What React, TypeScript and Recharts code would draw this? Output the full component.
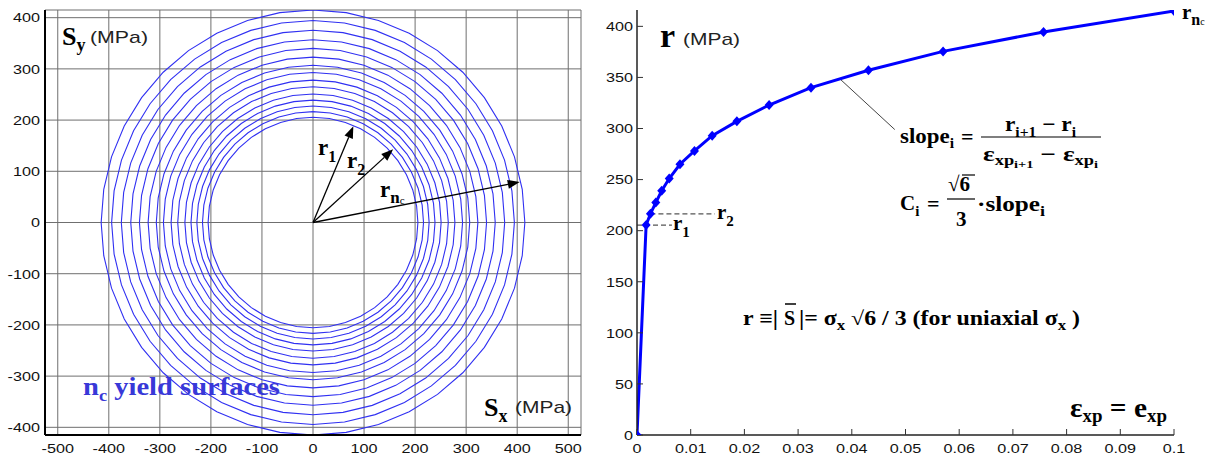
import React from 'react'
import {
  LineChart,
  Line,
  XAxis,
  YAxis,
  CartesianGrid,
  ReferenceLine
} from 'recharts'

// equivalent plastic strain at each knot of the curve
const strainValues = [0, 0.0017, 0.0025, 0.0035, 0.0046, 0.006, 0.008, 0.0107, 0.014, 0.0186, 0.0246, 0.0324, 0.0431, 0.057, 0.0757, 0.1]
// yield surface radius r (MPa) at each knot
const rValues = [0, 205.5, 216.5, 227.5, 239, 251, 265, 278, 293, 307, 323, 340, 357, 375.5, 394.5, 415]

const strainTicks = [0, 0.01, 0.02, 0.03, 0.04, 0.05, 0.06, 0.07, 0.08, 0.09, 0.1]
const rTicks = [0, 50, 100, 150, 200, 250, 300, 350, 400]
const sxTicks = [-500, -400, -300, -200, -100, 0, 100, 200, 300, 400, 500]
const syTicks = [-400, -300, -200, -100, 0, 100, 200, 300, 400]

// arrow tips in the deviatoric plane (MPa)
const arrowTipX = [79, 157, 405]
const arrowTipY = [188, 143, 79]

const SEGMENTS = 40
const curveData = strainValues.map((e, i) => ({ e, r: rValues[i] }))
const surfaces = rValues.slice(1).map(r =>
  Array.from({ length: SEGMENTS + 1 }, (_, k) => {
    const a = (2 * Math.PI * k) / SEGMENTS
    return { x: r * Math.cos(a), y: r * Math.sin(a) }
  })
)

const serif = '"Liberation Serif", "Times New Roman", serif'
const sans = '"Liberation Sans", Arial, sans-serif'
const BLUE = '#0000ff'

// tick labels in the source are a wide Arial, so stretch them a bit
const XTick = (p: any) => {
  const { x, y, payload } = p
  return (
    <g transform={`translate(${x},${y}) scale(1.2,1)`}>
      <text x={0} y={0} dy="0.71em" textAnchor="middle" fontFamily={sans} fontSize={13.5} fill="#111">
        {String(payload.value)}
      </text>
    </g>
  )
}

const YTick = (p: any) => {
  const { x, y, payload } = p
  return (
    <g transform={`translate(${x},${y}) scale(1.2,1)`}>
      <text x={0} y={0} dy="0.355em" textAnchor="end" fontFamily={sans} fontSize={13.5} fill="#111">
        {String(payload.value)}
      </text>
    </g>
  )
}

const Diamond = (p: any) => {
  const { cx, cy } = p
  if (cx == null || cy == null) return <g />
  return (
    <polygon
      points={`${cx},${cy - 5} ${cx + 4.5},${cy} ${cx},${cy + 5} ${cx - 4.5},${cy}`}
      fill={BLUE}
    />
  )
}

const ArrowShape = (props: any) => {
  const { x1, y1, x2, y2 } = props
  if (x1 == null || x2 == null) return <g />
  const a = Math.atan2(y2 - y1, x2 - x1)
  const len = 12
  const half = 4.5
  const bx = x2 - len * Math.cos(a)
  const by = y2 - len * Math.sin(a)
  const px = -Math.sin(a) * half
  const py = Math.cos(a) * half
  return (
    <g>
      <line x1={x1} y1={y1} x2={bx} y2={by} stroke="#000" strokeWidth={1.3} />
      <polygon points={`${x2},${y2} ${bx + px},${by + py} ${bx - px},${by - py}`} fill="#000" />
    </g>
  )
}

function SurfacesChart() {
  return (
    <LineChart width={600} height={464} margin={{ top: 10, right: 19, bottom: 0, left: 5 }}>
      <CartesianGrid stroke="#6f6f6f" strokeWidth={1} />
      <XAxis
        type="number"
        dataKey="x"
        domain={[-525, 525]}
        ticks={sxTicks}
        allowDataOverflow
        height={29}
        tickSize={0}
        tickMargin={8}
        tickLine={false}
        tick={XTick}
        axisLine={{ stroke: '#000', strokeWidth: 2 }}
      />
      <XAxis
        xAxisId="top"
        orientation="top"
        type="number"
        domain={[-525, 525]}
        allowDataOverflow
        height={0}
        tick={false}
        tickLine={false}
        axisLine={{ stroke: '#000', strokeWidth: 2 }}
      />
      <YAxis
        type="number"
        domain={[-415, 415]}
        ticks={syTicks}
        allowDataOverflow
        width={40}
        tickSize={0}
        tickMargin={5}
        tickLine={false}
        tick={YTick}
        axisLine={{ stroke: '#000', strokeWidth: 2 }}
      />
      <YAxis
        yAxisId="right"
        orientation="right"
        type="number"
        domain={[-415, 415]}
        allowDataOverflow
        width={0}
        tick={false}
        tickLine={false}
        axisLine={{ stroke: '#000', strokeWidth: 2 }}
      />
      {surfaces.map((pts, i) => (
        <Line
          key={`surf-${i}`}
          data={pts}
          dataKey="y"
          stroke="#3030f2"
          strokeWidth={1.1}
          dot={false}
          activeDot={false}
          isAnimationActive={false}
        />
      ))}
      {arrowTipX.map((tx, i) => (
        <ReferenceLine
          key={`arrow-${i}`}
          segment={[{ x: 0, y: 0 }, { x: tx, y: arrowTipY[i] }]}
          shape={ArrowShape}
          ifOverflow="visible"
        />
      ))}
    </LineChart>
  )
}

function CurveChart() {
  return (
    <LineChart width={620} height={464} data={curveData} margin={{ top: 10, right: 46, bottom: 0, left: 5 }}>
      <XAxis
        type="number"
        dataKey="e"
        domain={[0, 0.1]}
        ticks={strainTicks}
        allowDataOverflow
        height={29}
        tickSize={-6}
        tickMargin={14}
        tick={XTick}
        tickLine={{ stroke: '#333' }}
        axisLine={{ stroke: '#222', strokeWidth: 1.5 }}
      />
      <XAxis
        xAxisId="top"
        orientation="top"
        type="number"
        domain={[0, 0.1]}
        ticks={strainTicks}
        allowDataOverflow
        height={0}
        tickSize={-6}
        tickFormatter={() => ''}
        tickLine={{ stroke: '#333' }}
        axisLine={{ stroke: '#222', strokeWidth: 1.5 }}
      />
      <YAxis
        type="number"
        domain={[0, 416]}
        ticks={rTicks}
        allowDataOverflow
        width={32}
        tickSize={-6}
        tickMargin={10}
        tick={YTick}
        tickLine={{ stroke: '#333' }}
        axisLine={{ stroke: '#222', strokeWidth: 1.5 }}
      />
      <YAxis
        yAxisId="right"
        orientation="right"
        type="number"
        domain={[0, 416]}
        ticks={rTicks}
        allowDataOverflow
        width={0}
        tickSize={-6}
        tickFormatter={() => ''}
        tickLine={{ stroke: '#333' }}
        axisLine={{ stroke: '#222', strokeWidth: 1.5 }}
      />
      <ReferenceLine
        segment={[{ x: 0, y: rValues[1] }, { x: 0.0065, y: rValues[1] }]}
        stroke="#555"
        strokeDasharray="5 3"
        strokeWidth={1.2}
      />
      <ReferenceLine
        segment={[{ x: strainValues[2], y: rValues[2] }, { x: 0.0145, y: rValues[2] }]}
        stroke="#555"
        strokeDasharray="5 3"
        strokeWidth={1.2}
      />
      <ReferenceLine
        segment={[{ x: 0.0379, y: 348 }, { x: 0.048, y: 299 }]}
        stroke="#444"
        strokeWidth={1}
      />
      <Line
        dataKey="r"
        stroke={BLUE}
        strokeWidth={3}
        dot={Diamond}
        activeDot={false}
        isAnimationActive={false}
      />
    </LineChart>
  )
}

function Labels() {
  const b = { fontFamily: serif, fontWeight: 700, fill: '#000' } as const
  const m = { fontFamily: sans, fill: '#222', fontSize: 17 } as const
  return (
    <svg
      width={1220}
      height={464}
      style={{ position: 'absolute', left: 0, top: 0, pointerEvents: 'none' }}
    >
      {/* left panel */}
      <text x={62} y={45} {...b} fontSize={26}>
        S<tspan fontSize={18} dy={6}>y</tspan>
      </text>
      <text x={90} y={43} {...m} textLength={58} lengthAdjust="spacingAndGlyphs">(MPa)</text>
      <text x={484} y={416} {...b} fontSize={26}>
        S<tspan fontSize={18} dy={6}>x</tspan>
      </text>
      <text x={515} y={413} {...m} textLength={57} lengthAdjust="spacingAndGlyphs">(MPa)</text>
      <text x={83} y={395} {...b} fill="#3838d8" fontSize={25} textLength={197} lengthAdjust="spacingAndGlyphs">
        n<tspan fontSize={16} dy={6}>c</tspan>
        <tspan dy={-6}> yield surfaces</tspan>
      </text>
      <text x={318} y={155} {...b} fontSize={23}>
        r<tspan fontSize={16} dy={7}>1</tspan>
      </text>
      <text x={347} y={168} {...b} fontSize={23}>
        r<tspan fontSize={16} dy={7}>2</tspan>
      </text>
      <text x={380} y={197} {...b} fontSize={23}>
        r<tspan fontSize={17} dy={6}>n</tspan>
        <tspan fontSize={11} fontWeight={400} dy={1}>c</tspan>
      </text>

      {/* right panel */}
      <text x={660} y={47} {...b} fontSize={34}>r</text>
      <text x={683} y={45} {...m} textLength={57} lengthAdjust="spacingAndGlyphs">(MPa)</text>
      <text x={673} y={230} {...b} fontSize={21}>
        r<tspan fontSize={15} dy={7}>1</tspan>
      </text>
      <text x={717} y={219} {...b} fontSize={21}>
        r<tspan fontSize={15} dy={7}>2</tspan>
      </text>
      <text x={1182} y={19} {...b} fontSize={21}>
        r<tspan fontSize={16} dy={6}>n</tspan>
        <tspan fontSize={10} fontWeight={400} dy={0}>c</tspan>
      </text>

      <text x={900} y={143} {...b} fontSize={22} textLength={54} lengthAdjust="spacingAndGlyphs">
        slope<tspan fontSize={15} dy={5}>i</tspan>
      </text>
      <text x={961} y={144} {...b} fontSize={22}>=</text>
      <text x={1005} y={131} {...b} fontSize={21} textLength={71} lengthAdjust="spacingAndGlyphs">
        r<tspan fontSize={14} dy={6}>i+1</tspan>
        <tspan dy={-6}> − r</tspan>
        <tspan fontSize={14} dy={6}>i</tspan>
      </text>
      <line x1={981} y1={137} x2={1101} y2={137} stroke="#000" strokeWidth={1.2} />
      <text x={983} y={161} {...b} fontSize={21} textLength={115} lengthAdjust="spacingAndGlyphs">
        ε<tspan fontSize={14} dy={4}>xp</tspan>
        <tspan fontSize={11} dy={3}>i+1</tspan>
        <tspan dy={-7}> − ε</tspan>
        <tspan fontSize={14} dy={4}>xp</tspan>
        <tspan fontSize={11} dy={3}>i</tspan>
      </text>

      <text x={900} y={210} {...b} fontSize={21}>
        C<tspan fontSize={15} dy={6}>i</tspan>
      </text>
      <text x={927} y={211} {...b} fontSize={22}>=</text>
      <text x={948} y={191} {...b} fontSize={21}>√6</text>
      <line x1={962} y1={175} x2={975} y2={175} stroke="#000" strokeWidth={1.2} />
      <line x1={947} y1={199} x2={975} y2={199} stroke="#000" strokeWidth={1.2} />
      <text x={956} y={226} {...b} fontSize={21}>3</text>
      <text x={977} y={211} {...b} fontSize={21} textLength={68} lengthAdjust="spacingAndGlyphs">
        ·slope<tspan fontSize={15} dy={5}>i</tspan>
      </text>

      <text x={743} y={325} {...b} fontSize={20} textLength={35} lengthAdjust="spacingAndGlyphs">r ≡|</text>
      <text x={784} y={325} {...b} fontSize={20}>S</text>
      <line x1={785} y1={304} x2={796} y2={304} stroke="#000" strokeWidth={1.5} />
      <text x={799} y={325} {...b} fontSize={20} textLength={281} lengthAdjust="spacingAndGlyphs">
        |= σ<tspan fontSize={14} dy={5}>x</tspan>
        <tspan dy={-5}> √6 / 3  (for uniaxial σ</tspan>
        <tspan fontSize={14} dy={5}>x</tspan>
        <tspan dy={-5}> )</tspan>
      </text>

      <text x={1070} y={417} {...b} fontSize={28} textLength={97} lengthAdjust="spacingAndGlyphs">
        ε<tspan fontSize={18} dy={5}>xp</tspan>
        <tspan dy={-5}> = e</tspan>
        <tspan fontSize={18} dy={5}>xp</tspan>
      </text>
    </svg>
  )
}

export default function App() {
  return (
    <div style={{ position: 'absolute', left: 0, top: 0, width: 1220, height: 464, background: '#fff' }}>
      <div style={{ position: 'absolute', left: 0, top: 0 }}>
        <SurfacesChart />
      </div>
      <div style={{ position: 'absolute', left: 600, top: 0 }}>
        <CurveChart />
      </div>
      <Labels />
    </div>
  )
}
